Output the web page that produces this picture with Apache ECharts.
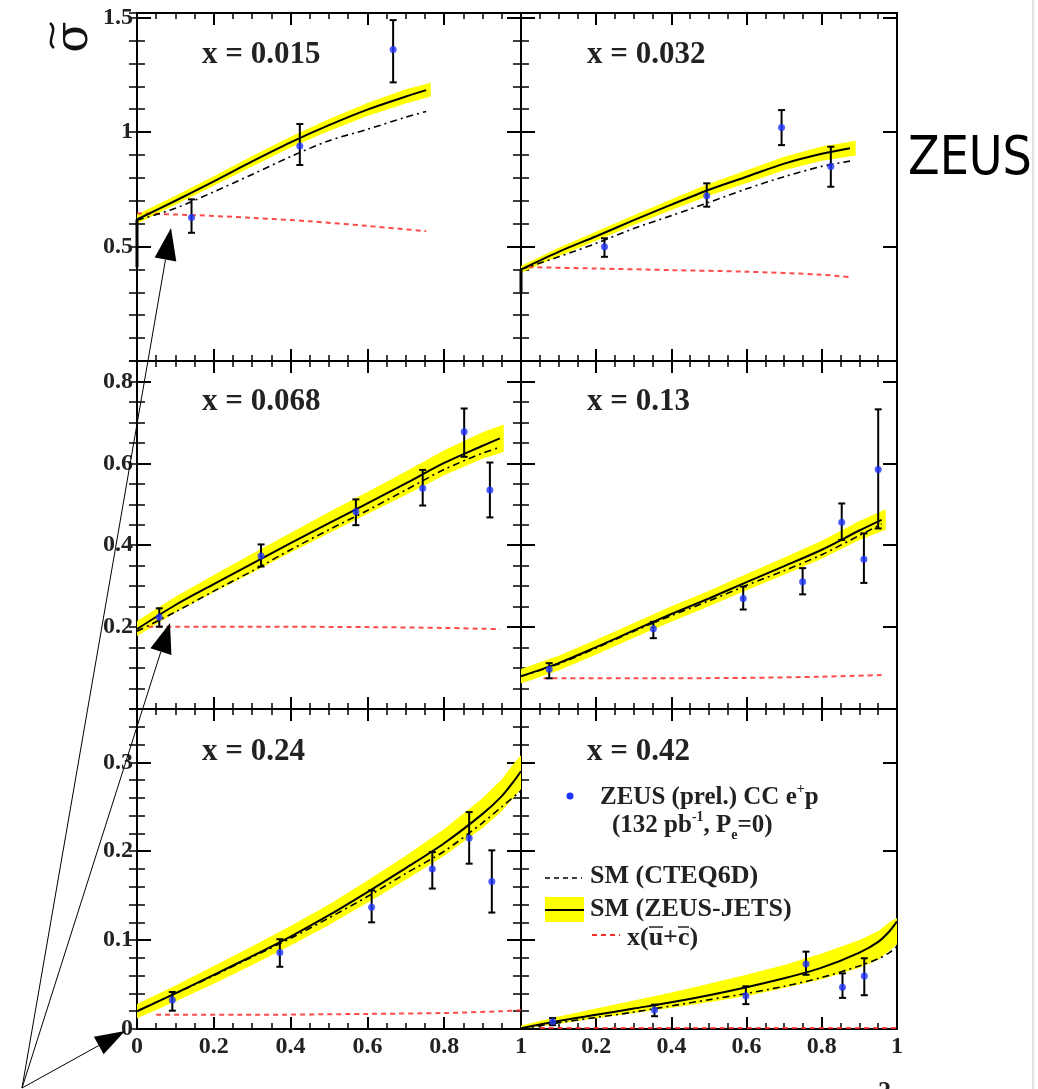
<!DOCTYPE html>
<html>
<head>
<meta charset="UTF-8">
<title>ZEUS CC e+p reduced cross section</title>
<script src="https://cdn.jsdelivr.net/npm/echarts@6/dist/echarts.min.js"></script>
<style>
html, body { margin: 0; padding: 0; background: #fff; }
#main { width: 1038px; height: 1089px; }
</style>
</head>
<body>
<div id="main"></div>
<script>
// panel titles and y-axis ranges
var titles = ['x = 0.015', 'x = 0.032', 'x = 0.068', 'x = 0.13', 'x = 0.24', 'x = 0.42'];
var yMax = [1.52, 1.52, 0.85, 0.85, 0.36, 0.36];
var yMajor = [0.5, 0.5, 0.2, 0.2, 0.1, 0.1];
var yMinor = [0.1, 0.1, 0.05, 0.05, 0.02, 0.02];

// ZEUS points: [y, sigma, err down, err up]
var pts015 = [[0.142, 0.627, 0.067, 0.079], [0.424, 0.939, 0.083, 0.096], [0.667, 1.361, 0.144, 0.128]];
var pts032 = [[0.222, 0.499, 0.044, 0.037], [0.494, 0.722, 0.048, 0.054], [0.693, 1.020, 0.077, 0.076], [0.824, 0.849, 0.088, 0.087]];
var pts068 = [[0.058, 0.224, 0.023, 0.022], [0.323, 0.374, 0.026, 0.028], [0.57, 0.482, 0.033, 0.030],
              [0.744, 0.539, 0.042, 0.045], [0.852, 0.677, 0.061, 0.057], [0.919, 0.535, 0.067, 0.067]];
var pts13 = [[0.075, 0.097, 0.022, 0.015], [0.352, 0.196, 0.023, 0.017], [0.591, 0.270, 0.027, 0.029],
             [0.749, 0.311, 0.031, 0.033], [0.853, 0.456, 0.043, 0.046], [0.912, 0.366, 0.058, 0.063],
             [0.950, 0.585, 0.144, 0.147]];
var pts24 = [[0.092, 0.0326, 0.012, 0.009], [0.372, 0.086, 0.016, 0.015], [0.611, 0.137, 0.017, 0.019],
             [0.769, 0.180, 0.022, 0.019], [0.865, 0.215, 0.029, 0.029], [0.924, 0.166, 0.035, 0.035]];
var pts42 = [[0.084, 0.0083, 0.004, 0.004], [0.355, 0.0214, 0.007, 0.006], [0.598, 0.0375, 0.0095, 0.0105],
             [0.758, 0.073, 0.012, 0.014], [0.855, 0.047, 0.012, 0.0156], [0.913, 0.0596, 0.0216, 0.020]];

// SM (ZEUS-JETS) central curve
var jets015 = [[0, 0.618], [0.1, 0.70], [0.2, 0.785], [0.3, 0.872], [0.4, 0.955], [0.5, 1.03], [0.6, 1.098], [0.7, 1.155], [0.753, 1.183]];
var jets032 = [[0, 0.40], [0.1, 0.477], [0.2, 0.545], [0.3, 0.615], [0.4, 0.683], [0.5, 0.748], [0.6, 0.805], [0.7, 0.862], [0.8, 0.905], [0.875, 0.929]];
var jets068 = [[0, 0.195], [0.1, 0.254], [0.2, 0.305], [0.3, 0.355], [0.4, 0.405], [0.5, 0.454], [0.6, 0.502], [0.7, 0.551], [0.8, 0.601], [0.9, 0.643], [0.945, 0.661]];
var jets13 = [[0, 0.08], [0.1, 0.112], [0.2, 0.151], [0.3, 0.192], [0.4, 0.232], [0.5, 0.270], [0.6, 0.310], [0.7, 0.349], [0.8, 0.389], [0.9, 0.436], [0.959, 0.462]];
var jets24 = [[0, 0.02], [0.1, 0.04], [0.2, 0.061], [0.3, 0.082], [0.4, 0.104], [0.5, 0.128], [0.6, 0.154], [0.7, 0.181], [0.8, 0.209], [0.9, 0.242], [0.95, 0.262], [0.98, 0.278], [1, 0.29]];
var jets42 = [[0, 0.001], [0.1, 0.009], [0.2, 0.016], [0.3, 0.023], [0.4, 0.03], [0.5, 0.038], [0.6, 0.047], [0.7, 0.057], [0.8, 0.069], [0.9, 0.086], [0.95, 0.098], [0.98, 0.11], [1, 0.121]];

// SM (ZEUS-JETS) uncertainty band: [y, low, high]
var band015 = [[0, 0.600, 0.640], [0.1, 0.682, 0.722], [0.2, 0.765, 0.807], [0.3, 0.850, 0.895], [0.4, 0.932, 0.980],
               [0.5, 1.005, 1.057], [0.6, 1.070, 1.127], [0.7, 1.125, 1.187], [0.765, 1.155, 1.215]];
var band032 = [[0, 0.385, 0.415], [0.1, 0.458, 0.495], [0.2, 0.525, 0.566], [0.3, 0.594, 0.637], [0.4, 0.660, 0.706],
               [0.5, 0.722, 0.774], [0.6, 0.778, 0.833], [0.7, 0.833, 0.892], [0.8, 0.875, 0.937], [0.89, 0.898, 0.962]];
var band068 = [[0, 0.178, 0.215], [0.1, 0.236, 0.274], [0.2, 0.285, 0.327], [0.3, 0.333, 0.379], [0.4, 0.382, 0.430],
               [0.5, 0.429, 0.481], [0.6, 0.476, 0.530], [0.7, 0.523, 0.580], [0.8, 0.571, 0.632], [0.9, 0.611, 0.676], [0.955, 0.628, 0.695]];
var band13 = [[0, 0.062, 0.098], [0.1, 0.094, 0.130], [0.2, 0.133, 0.169], [0.3, 0.174, 0.210], [0.4, 0.213, 0.251],
              [0.5, 0.251, 0.289], [0.6, 0.290, 0.330], [0.7, 0.328, 0.370], [0.8, 0.367, 0.411], [0.9, 0.413, 0.459], [0.97, 0.438, 0.488]];
var band24 = [[0, 0.012, 0.028], [0.1, 0.031, 0.049], [0.2, 0.051, 0.071], [0.3, 0.072, 0.093], [0.4, 0.094, 0.116],
              [0.5, 0.117, 0.140], [0.6, 0.142, 0.167], [0.7, 0.168, 0.195], [0.8, 0.195, 0.225], [0.9, 0.226, 0.260],
              [0.95, 0.245, 0.281], [0.98, 0.260, 0.298], [1, 0.270, 0.308]];
var band42 = [[0, 0.0, 0.004], [0.1, 0.006, 0.014], [0.2, 0.012, 0.023], [0.3, 0.018, 0.032], [0.4, 0.024, 0.041],
              [0.5, 0.030, 0.051], [0.6, 0.037, 0.061], [0.7, 0.046, 0.072], [0.8, 0.056, 0.085], [0.9, 0.069, 0.100],
              [0.95, 0.078, 0.110], [0.98, 0.088, 0.120], [1, 0.095, 0.125]];

// SM (CTEQ6D)
var cteq015 = [[0, 0.615], [0.1, 0.667], [0.2, 0.739], [0.3, 0.815], [0.4, 0.893], [0.5, 0.962], [0.6, 1.012], [0.7, 1.065], [0.753, 1.09]];
var cteq032 = [[0, 0.40], [0.1, 0.455], [0.2, 0.514], [0.3, 0.579], [0.4, 0.635], [0.5, 0.693], [0.6, 0.752], [0.7, 0.805], [0.8, 0.85], [0.875, 0.873]];
var cteq068 = [[0, 0.19], [0.1, 0.237], [0.2, 0.288], [0.3, 0.337], [0.4, 0.389], [0.5, 0.438], [0.6, 0.485], [0.7, 0.535], [0.8, 0.585], [0.9, 0.625], [0.945, 0.639]];
var cteq13 = [[0, 0.08], [0.1, 0.11], [0.2, 0.149], [0.3, 0.19], [0.4, 0.228], [0.5, 0.264], [0.6, 0.302], [0.7, 0.338], [0.8, 0.377], [0.9, 0.424], [0.959, 0.452]];
var cteq24 = [[0, 0.02], [0.1, 0.04], [0.2, 0.06], [0.3, 0.081], [0.4, 0.102], [0.5, 0.125], [0.6, 0.149], [0.7, 0.175], [0.8, 0.2], [0.9, 0.232], [0.95, 0.25], [1, 0.268]];
var cteq42 = [[0, 0], [0.1, 0.007], [0.2, 0.013], [0.3, 0.019], [0.4, 0.026], [0.5, 0.033], [0.6, 0.04], [0.7, 0.048], [0.8, 0.058], [0.9, 0.071], [0.95, 0.079], [0.98, 0.086], [1, 0.093]];

// x(ubar + cbar)
var ubar015 = [[0, 0.645], [0.15, 0.637], [0.3, 0.625], [0.45, 0.61], [0.6, 0.59], [0.753, 0.567]];
var ubar032 = [[0.02, 0.41], [0.2, 0.404], [0.4, 0.397], [0.6, 0.39], [0.8, 0.377], [0.875, 0.366]];
var ubar068 = [[0.03, 0.201], [0.3, 0.201], [0.6, 0.2], [0.8, 0.198], [0.945, 0.195]];
var ubar13 = [[0.06, 0.075], [0.3, 0.075], [0.6, 0.076], [0.8, 0.079], [0.96, 0.083]];
var ubar24 = [[0.05, 0.016], [0.3, 0.016], [0.6, 0.017], [0.8, 0.018], [0.95, 0.02], [1, 0.021]];
var ubar42 = [[0.05, 0.001], [0.5, 0.001], [1, 0.001]];

// vertical drop of the curves at y = 0 in the top panels
var stub015 = [[0, 0.41], [0, 0.618]];
var stub032 = [[0, 0.30], [0, 0.40]];

var panels = [
  { pts: pts015, jets: jets015, band: band015, cteq: cteq015, ubar: ubar015, stub: stub015 },
  { pts: pts032, jets: jets032, band: band032, cteq: cteq032, ubar: ubar032, stub: stub032 },
  { pts: pts068, jets: jets068, band: band068, cteq: cteq068, ubar: ubar068, stub: [] },
  { pts: pts13, jets: jets13, band: band13, cteq: cteq13, ubar: ubar13, stub: [] },
  { pts: pts24, jets: jets24, band: band24, cteq: cteq24, ubar: ubar24, stub: [] },
  { pts: pts42, jets: jets42, band: band42, cteq: cteq42, ubar: ubar42, stub: [] }
];

var colLeft = [137, 521], colWidth = [384, 376];
var rowTop = [13, 361, 709], rowHeight = [348, 348, 320];

var SERIF = '"Liberation Serif", "Times New Roman", serif';
var labelFont = { fontFamily: SERIF, fontWeight: 'bold', fontSize: 24, color: '#222' };

function bandRender(band) {
  return function (params, api) {
    if (params.dataIndex !== 0) return null;
    var up = band.map(function (d) { return api.coord([d[0], d[2]]); });
    var lo = band.map(function (d) { return api.coord([d[0], d[1]]); }).reverse();
    return { type: 'polygon', shape: { points: up.concat(lo) }, style: { fill: '#ffff00' } };
  };
}

function errRender(params, api) {
  var x = api.value(0), v = api.value(1);
  var top = api.coord([x, v + api.value(3)]);
  var bot = api.coord([x, v - api.value(2)]);
  var s = { stroke: '#000', lineWidth: 2 };
  return {
    type: 'group',
    children: [
      { type: 'line', shape: { x1: top[0], y1: top[1], x2: bot[0], y2: bot[1] }, style: s },
      { type: 'line', shape: { x1: top[0] - 3.5, y1: top[1], x2: top[0] + 3.5, y2: top[1] }, style: s },
      { type: 'line', shape: { x1: bot[0] - 3.5, y1: bot[1], x2: bot[0] + 3.5, y2: bot[1] }, style: s }
    ]
  };
}

var grids = [], xAxes = [], yAxes = [], series = [], graphics = [];

panels.forEach(function (p, i) {
  var col = i % 2, row = Math.floor(i / 2);
  grids.push({ left: colLeft[col], top: rowTop[row], width: colWidth[col], height: rowHeight[row], containLabel: false });

  var lineSt = { color: '#000', width: 2 };
  ['bottom', 'top'].forEach(function (pos) {
    xAxes.push({
      gridIndex: i, type: 'value', min: 0, max: 1, interval: 0.2, position: pos,
      axisLine: { show: true, onZero: false, lineStyle: lineSt },
      axisTick: { show: true, inside: true, length: 12, lineStyle: lineSt },
      minorTick: { show: true, splitNumber: 4, length: 6, lineStyle: { color: '#000', width: 1.5 } },
      splitLine: { show: false },
      axisLabel: Object.assign({ show: pos === 'bottom' && row === 2, showMinLabel: col === 0, showMaxLabel: true, margin: 6 }, labelFont)
    });
  });
  ['left', 'right'].forEach(function (pos) {
    yAxes.push({
      gridIndex: i, type: 'value', min: 0, max: yMax[i], interval: yMajor[i], position: pos,
      axisLine: { show: true, onZero: false, lineStyle: lineSt },
      axisTick: { show: true, inside: true, length: 14, lineStyle: lineSt },
      splitLine: { show: false },
      axisLabel: Object.assign({ show: pos === 'left' && col === 0, showMinLabel: row === 2, showMaxLabel: false, margin: 4 }, labelFont)
    });
    yAxes.push({
      gridIndex: i, type: 'value', min: 0, max: yMax[i], interval: yMinor[i], position: pos,
      axisLine: { show: false },
      axisTick: { show: true, inside: true, length: 8, lineStyle: { color: '#000', width: 1.5 } },
      splitLine: { show: false },
      axisLabel: { show: false }
    });
  });

  var xi = 2 * i, yi = 4 * i;
  series.push({
    type: 'custom', xAxisIndex: xi, yAxisIndex: yi, z: 1, silent: true,
    renderItem: bandRender(p.band), data: p.band, encode: { x: 0, y: 1 }
  });
  series.push({
    type: 'line', xAxisIndex: xi, yAxisIndex: yi, z: 2, data: p.ubar, showSymbol: false, symbol: 'none', smooth: 0.3,
    lineStyle: { color: '#ff2a2a', width: 2, type: [5, 4], opacity: 0.85 }
  });
  series.push({
    type: 'line', xAxisIndex: xi, yAxisIndex: yi, z: 3, data: p.cteq, showSymbol: false, symbol: 'none', smooth: 0.3,
    lineStyle: { color: '#000', width: 1.6, type: [7, 4, 2, 4] }
  });
  series.push({
    type: 'line', xAxisIndex: xi, yAxisIndex: yi, z: 4, data: p.jets, showSymbol: false, symbol: 'none', smooth: 0.3,
    lineStyle: { color: '#000', width: 2 }
  });
  if (p.stub.length) {
    series.push({
      type: 'line', xAxisIndex: xi, yAxisIndex: yi, z: 4, data: p.stub, showSymbol: false, symbol: 'none',
      lineStyle: { color: '#000', width: 3 }
    });
  }
  series.push({
    type: 'custom', xAxisIndex: xi, yAxisIndex: yi, z: 5, renderItem: errRender,
    data: p.pts, encode: { x: 0, y: 1 }
  });
  series.push({
    type: 'scatter', xAxisIndex: xi, yAxisIndex: yi, z: 6, data: p.pts, symbol: 'circle', symbolSize: 7,
    itemStyle: { color: '#1f35ff' }
  });

  // panel title
  graphics.push({
    type: 'text', x: col === 0 ? 202 : 587, y: [55, 402, 752][row], z: 50,
    style: { text: titles[i], font: 'bold 31px ' + SERIF, fill: '#222', textAlign: 'left', textVerticalAlign: 'middle', align: 'left', verticalAlign: 'middle' }
  });
});

function txt(x, y, text, size) {
  return {
    type: 'text', x: x, y: y, z: 60,
    style: { text: text, font: 'bold ' + size + 'px ' + SERIF, fill: '#222', textAlign: 'left', textVerticalAlign: 'middle', align: 'left', verticalAlign: 'middle' }
  };
}
function seg(x1, y1, x2, y2, stroke, w, dash) {
  return { type: 'line', z: 60, shape: { x1: x1, y1: y1, x2: x2, y2: y2 }, style: { stroke: stroke, lineWidth: w, lineDash: dash || null } };
}
function richTxt(x, y, text) {
  var base = { fontFamily: SERIF, fontWeight: 'bold', fill: '#222' };
  return {
    type: 'text', x: x, y: y, z: 60,
    style: {
      text: text, fill: '#222', textAlign: 'left', textVerticalAlign: 'middle', align: 'left', verticalAlign: 'middle',
      rich: {
        n: Object.assign({ fontSize: 25, lineHeight: 32 }, base),
        sup: Object.assign({ fontSize: 14, lineHeight: 18, verticalAlign: 'top' }, base),
        sub: Object.assign({ fontSize: 14, lineHeight: 12, verticalAlign: 'bottom' }, base)
      }
    }
  };
}

// legend (bottom-right panel)
graphics.push({ type: 'circle', z: 60, shape: { cx: 570, cy: 796, r: 3.5 }, style: { fill: '#1f35ff' } });
graphics.push(richTxt(600, 798, '{n|ZEUS (prel.) CC e}{sup|+}{n|p}'));
graphics.push(richTxt(612, 826, '{n|(132 pb}{sup|-1}{n|, P}{sub|e}{n|=0)}'));
graphics.push(seg(545, 878, 582, 878, '#000', 1.6, [5, 4]));
graphics.push(txt(590, 876, 'SM (CTEQ6D)', 26));
graphics.push({ type: 'rect', z: 59, shape: { x: 545, y: 897, width: 39, height: 25 }, style: { fill: '#ffff00' } });
graphics.push(seg(545, 910, 584, 910, '#000', 2));
graphics.push(txt(590, 909, 'SM (ZEUS-JETS)', 26));
graphics.push(seg(592, 935, 620, 935, '#ff2a2a', 2, [5, 4]));
graphics.push(txt(627, 938, 'x(u+c)', 26));
graphics.push(seg(649, 927, 663, 927, '#222', 1.5));
graphics.push(seg(678, 927, 689, 927, '#222', 1.5));

// y-axis title: sigma turned on its side, with the tilde drawn as a vertical wave to its left
graphics.push({
  type: 'text', x: 75, y: 37, rotation: Math.PI / 2, z: 60,
  style: { text: 'σ', font: '46px "DejaVu Serif", serif', fill: '#111', textAlign: 'center', textVerticalAlign: 'middle', align: 'center', verticalAlign: 'middle' }
});
graphics.push({
  type: 'bezierCurve', z: 60,
  shape: { x1: 50, y1: 23, cpx1: 59, cpy1: 30, cpx2: 45, cpy2: 41, x2: 54, y2: 48 },
  style: { stroke: '#111', lineWidth: 2.5, fill: null }
});
graphics.push({
  type: 'text', x: 908, y: 160, scaleX: 0.855, z: 60,
  style: { text: 'ZEUS', font: '54px "DejaVu Sans", sans-serif', fill: '#000', textAlign: 'left', textVerticalAlign: 'middle', align: 'left', verticalAlign: 'middle' }
});
graphics.push({
  type: 'text', x: 878, y: 1079, z: 60,
  style: { text: '2', font: 'bold 26px ' + SERIF, fill: '#222', textAlign: 'left', textVerticalAlign: 'top', align: 'left', verticalAlign: 'top' }
});
graphics.push(seg(1033, 0, 1033, 1089, '#d0d0d0', 1.2));

// annotation arrows
var origin = [22, 1088];
[[[165.5, 259.5], [[171, 228], [154.7, 257.6], [176.3, 261.4]]],
 [[160.9, 651.6], [[170, 623], [150.4, 648.3], [171.4, 654.9]]],
 [[98.8, 1045.5], [[125, 1031], [93.9, 1036.8], [103.6, 1054.3]]]].forEach(function (a) {
  graphics.push(seg(origin[0], origin[1], a[0][0], a[0][1], '#000', 1));
  graphics.push({ type: 'polygon', z: 61, shape: { points: a[1] }, style: { fill: '#000' } });
});

var myChart = echarts.init(document.getElementById('main'));
myChart.setOption({
  animation: false,
  backgroundColor: '#fff',
  grid: grids,
  xAxis: xAxes,
  yAxis: yAxes,
  series: series,
  graphic: { elements: graphics }
});
</script>
</body>
</html>
